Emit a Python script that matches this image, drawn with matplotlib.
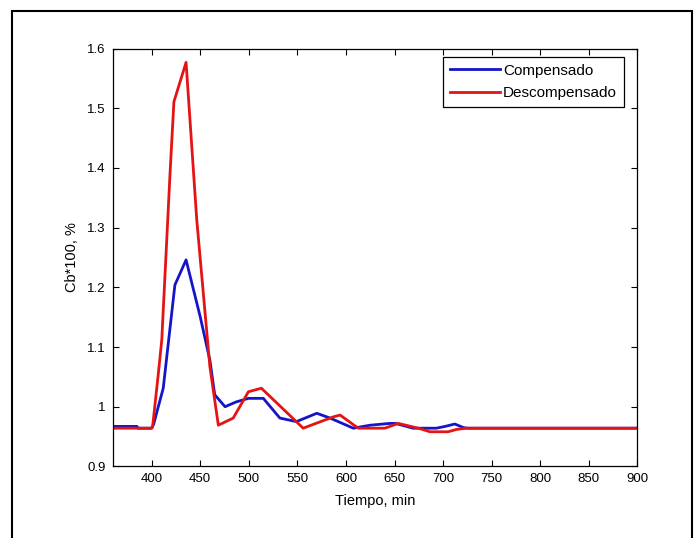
import matplotlib.pyplot as plt
from matplotlib.patches import Rectangle

# Compensado (blue)
t_comp = [360, 385, 386, 400, 402, 412, 424, 435.5, 450, 460, 465, 475.6, 487, 499.6,
          515, 532, 549, 570, 583.6, 607.6, 624.8, 645, 651, 669, 693, 702, 712, 721, 725, 900]
cb_comp = [0.967, 0.967, 0.964, 0.964, 0.970, 1.031, 1.204, 1.246, 1.151, 1.078, 1.020, 1.000, 1.008,
           1.014, 1.014, 0.981, 0.975, 0.989, 0.981, 0.964, 0.969, 0.972, 0.972, 0.964, 0.964,
           0.967, 0.971, 0.965, 0.964, 0.964]

# Descompensado (red)
t_desc = [360, 400, 401, 407, 410.5, 415.6, 419, 423, 435.5, 446.5, 460, 468.7, 484, 499.6,
          513, 556, 587, 594, 612.7, 640, 654, 674.5, 686.5, 705, 714, 724, 900]
cb_desc = [0.964, 0.964, 0.966, 1.056, 1.112, 1.279, 1.391, 1.511, 1.577, 1.313, 1.067, 0.969,
           0.981, 1.025, 1.031, 0.964, 0.983, 0.986, 0.964, 0.964, 0.972, 0.964, 0.958, 0.958,
           0.962, 0.964, 0.964]

xticks = [400, 450, 500, 550, 600, 650, 700, 750, 800, 850, 900]
yticks = [0.9, 1.0, 1.1, 1.2, 1.3, 1.4, 1.5, 1.6]
ytick_labels = ['0.9', '1', '1.1', '1.2', '1.3', '1.4', '1.5', '1.6']

plt.rcParams['font.family'] = ['Liberation Sans', 'DejaVu Sans']

fig = plt.figure(figsize=(6.98, 5.38), dpi=100)
ax = fig.add_axes([112.7 / 698, 1 - 466.4 / 538, (637.5 - 112.7) / 698, (466.4 - 48.6) / 538])

ax.plot(t_comp, cb_comp, color='#1414c8', lw=2.0, label='Compensado')
ax.plot(t_desc, cb_desc, color='#e41414', lw=2.0, label='Descompensado')

ax.set_xlim(360, 900)
ax.set_ylim(0.9, 1.6)
ax.set_xticks(xticks)
ax.set_yticks(yticks)
ax.set_yticklabels(ytick_labels)
ax.tick_params(direction='in', top=True, right=True, length=4, width=0.8,
               labelsize=9.5, pad=5)
for s in ax.spines.values():
    s.set_linewidth(0.9)

ax.set_xlabel('Tiempo, min', fontsize=10.5, labelpad=6)
ax.set_ylabel('Cb*100, %', fontsize=10.5, labelpad=6)

leg = ax.legend(loc='upper right', bbox_to_anchor=(0.974, 0.98), borderaxespad=0,
                fancybox=False, edgecolor='black', framealpha=1, fontsize=11,
                handlelength=3.3, borderpad=0.45, labelspacing=0.55, handletextpad=0.2)
leg.get_frame().set_linewidth(0.9)

# outer frame around the figure
fig.patches.append(Rectangle((12 / 698, -0.05), (692 - 12) / 698, 1.05 - 11 / 538,
                             transform=fig.transFigure, fill=False,
                             edgecolor='black', linewidth=1.5))

fig.savefig('out.png', dpi=100)
